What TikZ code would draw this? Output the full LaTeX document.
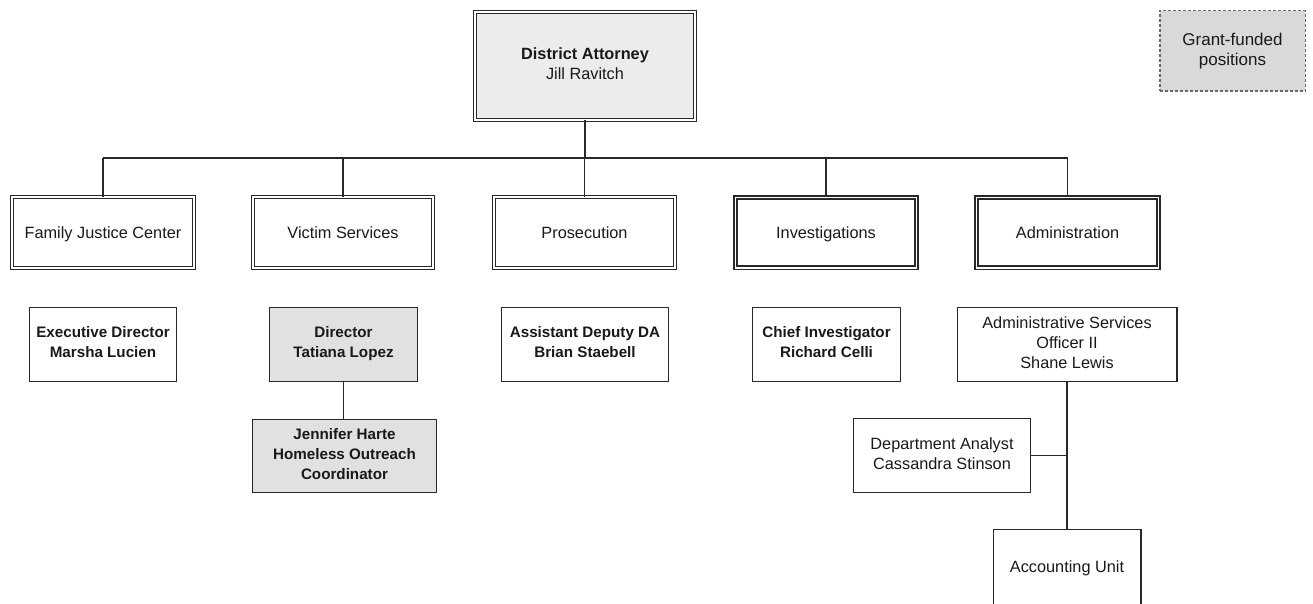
\documentclass[tikz,border=0pt]{standalone}
\usepackage{fontspec}
\setmainfont{Liberation Sans}
\definecolor{boxline}{RGB}{40,40,40}
\definecolor{txt}{RGB}{25,25,25}
\definecolor{dafill}{RGB}{236,236,236}
\definecolor{grayfill}{RGB}{225,225,225}
\definecolor{grantfill}{RGB}{217,217,217}
\definecolor{grantline}{RGB}{105,105,105}
\newcommand\boxstrut{\rule[-4.15pt]{0pt}{20pt}}
\begin{document}
\begin{tikzpicture}[x=1pt,y=-1pt,
  base/.style={draw=boxline, line width=1.4pt, text=txt, align=center, inner sep=0pt,
    font=\fontsize{16.3}{20}\selectfont,
    execute at begin node=\boxstrut, execute at end node=\boxstrut},
  bbase/.style={base, font=\fontsize{15.2}{20}\selectfont\bfseries},
  dbl/.style={base, double=white, double distance=1.6pt, line width=1.4pt},
  dblthick/.style={base, double=white, double distance=1.4pt, line width=1.7pt},
  toprow/.style={minimum height=70.6pt},
  secrow/.style={minimum height=73.6pt},
  grayed/.style={fill=grayfill},
  conn/.style={draw=boxline, line width=1.5pt},
  grantbox/.style={draw=grantline, line width=1.5pt, dash pattern=on 3pt off 2pt,
    fill=grantfill, text=txt, align=center, inner sep=0pt,
    font=\fontsize{17}{20}\selectfont,
    execute at begin node=\boxstrut, execute at end node=\boxstrut}
]
\useasboundingbox (0,0) rectangle (1313,604);

% top
\node[dbl, fill=dafill, minimum width=219.6pt, minimum height=107.6pt] (da) at (585,66)
  {\textbf{District Attorney}\\Jill Ravitch};

\node[grantbox, minimum width=145.5pt, minimum height=80.5pt] (grant) at (1232.5,51)
  {Grant-funded\\positions};

% divisions
\node[dbl, toprow, minimum width=181.6pt] (fjc) at (103,232.5) {Family Justice Center};
\node[dbl, toprow, minimum width=179.6pt] (vs) at (343,232.5) {Victim Services};
\node[dbl, toprow, minimum width=180.6pt] (pros) at (584.5,232.5) {Prosecution};
\node[dblthick, toprow, minimum width=181.2pt] (inv) at (826,232.5) {Investigations};
\node[dblthick, toprow, minimum width=182.2pt] (adm) at (1067.5,232.5) {Administration};

% heads
\node[bbase, secrow, minimum width=146.6pt] (ed) at (103,344.5) {Executive Director\\Marsha Lucien};
\node[bbase, grayed, secrow, minimum width=147.6pt] (dir) at (343.5,344.5) {Director\\Tatiana Lopez};
\node[bbase, secrow, minimum width=166.6pt] (adda) at (585,344.5) {Assistant Deputy DA\\Brian Staebell};
\node[bbase, secrow, minimum width=147.6pt] (chief) at (826.5,344.5) {Chief Investigator\\Richard Celli};
\node[base, secrow, minimum width=219.6pt] (aso) at (1067,344.5) {Administrative Services\\Officer II\\Shane Lewis};

% lower
\node[bbase, grayed, minimum width=183.6pt, minimum height=72.6pt] (jen) at (344.5,456)
  {Jennifer Harte\\Homeless Outreach\\Coordinator};
\node[base, minimum width=176.6pt, minimum height=73.6pt] (dept) at (942,455.5)
  {Department Analyst\\Cassandra Stinson};
\node[base, minimum width=147.6pt, minimum height=74.6pt] (acc) at (1067,567) {Accounting Unit};

% connectors
\coordinate (bus) at (0,158);
\draw[conn] (fjc.north |- bus) -- (adm.north |- bus);
\draw[conn] (da.south) -- (da.south |- bus);
\foreach \n in {fjc,vs,pros,inv,adm}
  \draw[conn] (\n.north) -- (\n.north |- bus);
\draw[conn] (dir.south) -- (dir.south |- jen.north);
\draw[conn] (aso.south) -- (acc.north);
\draw[conn] (dept.east) -- (dept.east -| aso.south);
\end{tikzpicture}
\end{document}
